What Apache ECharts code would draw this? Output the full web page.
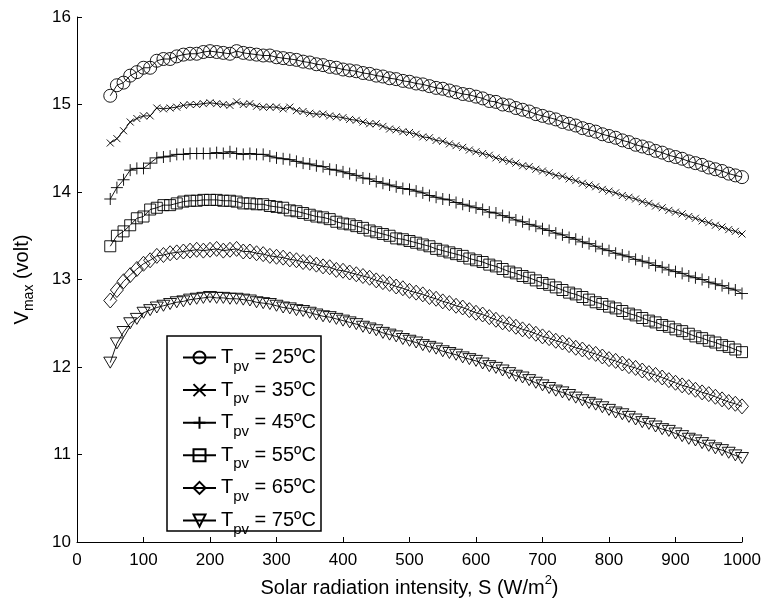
<!DOCTYPE html>
<html>
<head>
<meta charset="utf-8">
<script src="https://cdn.jsdelivr.net/npm/echarts@6/dist/echarts.min.js"></script>
<style>
html,body{margin:0;padding:0;background:#fff;}
#chart{width:766px;height:610px;}
</style>
</head>
<body>
<div id="chart"></div>
<script>
// Solar radiation intensity S (W/m^2)
const radiation = [50,60,70,80,90,100,110,120,130,140,150,160,170,180,190,200,210,220,230,240,250,260,270,280,290,300,310,320,330,340,350,360,370,380,390,400,410,420,430,440,450,460,470,480,490,500,510,520,530,540,550,560,570,580,590,600,610,620,630,640,650,660,670,680,690,700,710,720,730,740,750,760,770,780,790,800,810,820,830,840,850,860,870,880,890,900,910,920,930,940,950,960,970,980,990,1000];

const temperatures = ['25', '35', '45', '55', '65', '75'];

const vmax25 = [15.10,15.22,15.25,15.33,15.37,15.42,15.42,15.50,15.52,15.52,15.55,15.57,15.58,15.58,15.60,15.61,15.60,15.59,15.58,15.61,15.59,15.58,15.57,15.56,15.56,15.54,15.53,15.52,15.51,15.49,15.48,15.46,15.45,15.43,15.42,15.40,15.39,15.38,15.36,15.35,15.33,15.32,15.30,15.29,15.27,15.26,15.24,15.23,15.21,15.19,15.18,15.16,15.14,15.12,15.11,15.09,15.07,15.04,15.03,15.00,14.99,14.96,14.94,14.92,14.89,14.87,14.85,14.83,14.80,14.78,14.76,14.73,14.71,14.69,14.66,14.64,14.62,14.59,14.57,14.54,14.52,14.50,14.47,14.45,14.42,14.40,14.38,14.35,14.33,14.31,14.28,14.26,14.24,14.21,14.19,14.17];

const vmax35 = [14.56,14.61,14.70,14.80,14.84,14.87,14.87,14.96,14.95,14.96,14.97,14.99,15.00,15.00,15.01,15.02,15.01,15.00,14.99,15.03,15.00,15.01,14.98,14.97,14.97,14.97,14.95,14.97,14.93,14.92,14.90,14.89,14.89,14.87,14.86,14.85,14.83,14.82,14.80,14.78,14.78,14.75,14.72,14.71,14.69,14.68,14.66,14.63,14.62,14.59,14.58,14.55,14.53,14.51,14.48,14.46,14.44,14.42,14.39,14.37,14.35,14.33,14.30,14.29,14.26,14.24,14.22,14.19,14.18,14.15,14.13,14.10,14.08,14.06,14.03,14.01,13.99,13.96,13.94,13.92,13.89,13.87,13.84,13.82,13.79,13.77,13.75,13.72,13.70,13.67,13.65,13.62,13.60,13.57,13.55,13.52];

const vmax45 = [13.92,14.05,14.14,14.25,14.27,14.27,14.33,14.39,14.40,14.41,14.43,14.43,14.44,14.44,14.44,14.44,14.45,14.44,14.46,14.44,14.43,14.44,14.43,14.43,14.41,14.39,14.38,14.37,14.35,14.33,14.32,14.30,14.29,14.26,14.25,14.23,14.21,14.19,14.16,14.15,14.12,14.10,14.08,14.06,14.04,14.03,14.01,13.99,13.96,13.94,13.92,13.91,13.88,13.86,13.84,13.82,13.80,13.77,13.76,13.73,13.71,13.68,13.66,13.63,13.61,13.58,13.56,13.53,13.51,13.48,13.46,13.43,13.41,13.38,13.35,13.33,13.30,13.28,13.26,13.23,13.21,13.19,13.16,13.14,13.11,13.09,13.07,13.04,13.02,13.00,12.97,12.95,12.93,12.90,12.88,12.84];

const vmax55 = [13.38,13.50,13.55,13.62,13.70,13.72,13.80,13.82,13.85,13.85,13.87,13.89,13.90,13.90,13.91,13.91,13.91,13.90,13.90,13.89,13.87,13.87,13.86,13.86,13.84,13.83,13.82,13.79,13.78,13.76,13.74,13.72,13.71,13.69,13.66,13.64,13.63,13.61,13.59,13.56,13.54,13.52,13.50,13.47,13.46,13.44,13.42,13.40,13.38,13.35,13.33,13.31,13.29,13.27,13.24,13.22,13.20,13.17,13.15,13.12,13.09,13.07,13.04,13.02,12.99,12.96,12.94,12.91,12.88,12.85,12.83,12.80,12.77,12.74,12.72,12.69,12.67,12.64,12.61,12.59,12.56,12.53,12.51,12.48,12.46,12.43,12.41,12.38,12.35,12.33,12.30,12.28,12.25,12.23,12.20,12.17];

const vmax65 = [12.76,12.88,12.98,13.05,13.12,13.18,13.22,13.27,13.28,13.30,13.31,13.32,13.33,13.34,13.33,13.34,13.35,13.33,13.34,13.35,13.32,13.32,13.30,13.29,13.27,13.26,13.25,13.23,13.22,13.20,13.19,13.17,13.15,13.14,13.11,13.10,13.08,13.06,13.04,13.02,12.99,12.97,12.95,12.92,12.90,12.87,12.85,12.83,12.80,12.78,12.75,12.73,12.70,12.68,12.65,12.62,12.60,12.57,12.54,12.51,12.49,12.46,12.43,12.41,12.38,12.35,12.33,12.30,12.28,12.25,12.22,12.20,12.17,12.15,12.12,12.09,12.07,12.04,12.01,11.99,11.96,11.93,11.91,11.88,11.85,11.82,11.79,11.77,11.74,11.71,11.69,11.66,11.63,11.60,11.58,11.55];

const vmax75 = [12.05,12.27,12.40,12.50,12.55,12.62,12.65,12.68,12.70,12.72,12.74,12.75,12.77,12.78,12.79,12.80,12.79,12.79,12.78,12.78,12.77,12.76,12.74,12.73,12.72,12.70,12.68,12.67,12.65,12.64,12.62,12.60,12.58,12.57,12.55,12.53,12.51,12.49,12.46,12.44,12.42,12.39,12.37,12.35,12.32,12.30,12.28,12.25,12.23,12.21,12.18,12.16,12.14,12.11,12.09,12.07,12.04,12.01,11.99,11.96,11.93,11.90,11.88,11.85,11.82,11.79,11.76,11.73,11.71,11.68,11.65,11.62,11.59,11.57,11.54,11.51,11.48,11.46,11.43,11.40,11.37,11.35,11.32,11.29,11.27,11.24,11.21,11.18,11.16,11.13,11.10,11.07,11.05,11.02,10.99,10.96];

const seriesValues = [vmax25, vmax35, vmax45, vmax55, vmax65, vmax75];
const symbols = [
  'circle',
  'path://M0,0L10,10M10,0L0,10',
  'path://M5,0L5,10M0,5L10,5',
  'rect',
  'diamond',
  'path://M0,0L10,0L5,9Z'
];
const symbolSizes = [13, 7, 12, 11, [13,15], [13,11]];

const FONT = '"Liberation Sans", Arial, sans-serif';

const chart = echarts.init(document.getElementById('chart'), null, {renderer: 'canvas'});

const series = temperatures.map((t, i) => ({
  name: t,
  type: 'line',
  data: radiation.map((s, j) => [s, seriesValues[i][j]]),
  symbol: symbols[i],
  symbolSize: symbolSizes[i],
  showAllSymbol: true,
  lineStyle: {color: '#000', width: 0.9},
  itemStyle: {color: 'rgba(0,0,0,0)', borderColor: '#000', borderWidth: 0.9},
  emphasis: {disabled: true},
  z: 2
}));

const option = {
  animation: false,
  backgroundColor: '#fff',
  grid: {left: 77, right: 24, top: 17, bottom: 68, containLabel: false},
  xAxis: {
    type: 'value', min: 0, max: 1000, interval: 100,
    axisLine: {lineStyle: {color: '#000', width: 1}},
    axisTick: {inside: true, length: 5, lineStyle: {color: '#000'}},
    axisLabel: {color: '#000', fontSize: 17, fontFamily: FONT, margin: 10, formatter: v => String(v)},
    splitLine: {show: false},
    name: '{a|Solar radiation intensity, S (W/m}{sup|2}{a|)}',
    nameLocation: 'middle',
    nameGap: 31,
    nameTextStyle: {
      rich: {
        a: {fontSize: 20, fontFamily: FONT, color: '#000', lineHeight: 30},
        sup: {fontSize: 13, fontFamily: FONT, color: '#000', lineHeight: 12, verticalAlign: 'top'}
      }
    }
  },
  yAxis: {
    type: 'value', min: 10, max: 16, interval: 1,
    axisLine: {show: true, lineStyle: {color: '#000', width: 1}},
    axisTick: {show: true, inside: true, length: 5, lineStyle: {color: '#000'}},
    axisLabel: {color: '#000', fontSize: 17, fontFamily: FONT, margin: 6},
    splitLine: {show: false},
    name: '{a|V}{sub|max}{a| (volt)}',
    nameLocation: 'middle',
    nameRotate: 90,
    nameGap: 40,
    nameTextStyle: {
      rich: {
        a: {fontSize: 20, fontFamily: FONT, color: '#000', lineHeight: 30},
        sub: {fontSize: 14, fontFamily: FONT, color: '#000', lineHeight: 14, padding: [14, 0, 0, 0]}
      }
    }
  },
  legend: {
    orient: 'vertical',
    left: 182,
    top: 341,
    padding: 0,
    itemGap: -0.4,
    itemWidth: 33,
    itemHeight: 15,
    selectedMode: false,
    data: temperatures,
    formatter: name => '{t|T}{s|pv}{t| = ' + name + 'ºC}',
    textStyle: {
      rich: {
        t: {fontSize: 20, fontFamily: FONT, color: '#000', lineHeight: 24},
        s: {fontSize: 15, fontFamily: FONT, color: '#000', lineHeight: 14, padding: [18, 0, 0, 0]}
      }
    }
  },
  graphic: [{
    type: 'rect',
    shape: {x: 167, y: 336, width: 154, height: 195},
    style: {fill: 'none', stroke: '#000', lineWidth: 1.5},
    z: 10
  }],
  series: series
};

chart.setOption(option);
</script>
</body>
</html>
